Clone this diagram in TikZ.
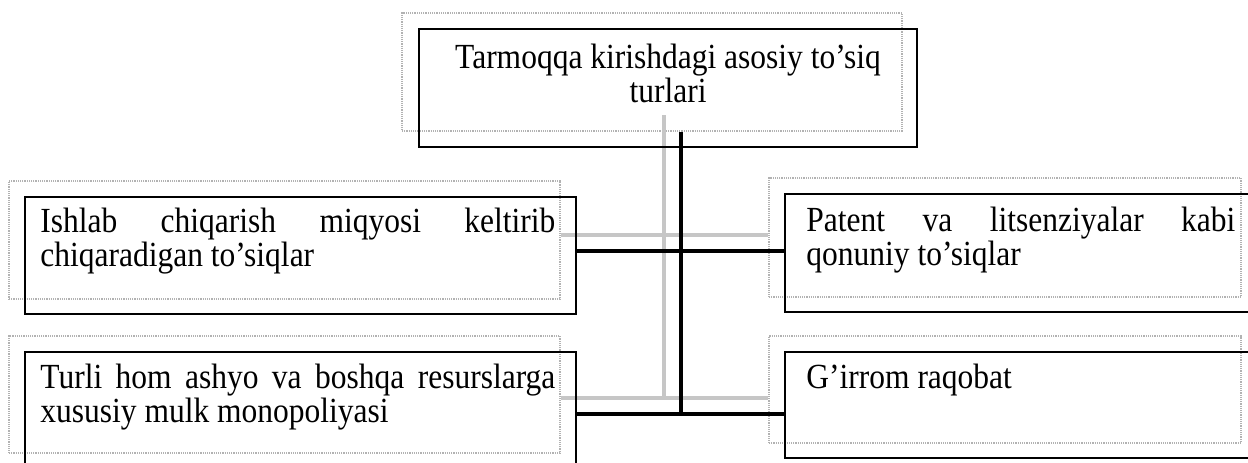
\documentclass[tikz,border=0pt]{standalone}
\usepackage{graphicx}
\usepackage{fontspec}
\setmainfont{Liberation Serif}
\usetikzlibrary{fit}
\newcommand{\tallbox}[1]{\scalebox{1}[1.12]{#1}}
\tikzset{
  ghost/.style={draw=gray!60, line width=0.55pt, dash pattern=on 0.6pt off 0.5pt, inner sep=0pt, rectangle},
  blackbox/.style={draw=black, line width=1pt, inner sep=0pt, rectangle},
  ghostlink/.style={draw=gray!45, line width=1.6pt},
  link/.style={draw=black, line width=1.8pt},
  txt/.style={inner sep=0pt, font=\fontsize{15.75pt}{14.3pt}\selectfont}
}
\begin{document}
\begin{tikzpicture}[x=0.5pt,y=-0.5pt]
\useasboundingbox (0,0) rectangle (1248,462);
\clip (0,0) rectangle (1248,462);
% ghost boxes
\node[ghost, fit={(402,13) (902,131)}] (gtop) {};
\node[ghost, fit={(9,181) (560,299)}] (glm) {};
\node[ghost, fit={(9,336) (560,453)}] (glb) {};
\node[ghost, fit={(769,178) (1241,297)}] (grm) {};
\node[ghost, fit={(769,336) (1241,443)}] (grb) {};
% ghost connectors
\coordinate (gt) at (664,115);
\coordinate (g1) at (664,235);
\coordinate (g2) at (664,398);
\draw[ghostlink] (gt) -- (g2);
\draw[ghostlink] (glm.east |- g1) -- (grm.west |- g1);
\draw[ghostlink] (glb.east |- g2) -- (grb.west |- g2);
% black boxes
\node[blackbox, fit={(419,29) (917,147)}] (top) {};
\node[blackbox, fit={(25,197) (576,314)}] (lm) {};
\node[blackbox, fit={(25,352) (576,475)}] (lb) {};
\node[blackbox, fit={(785,194) (1257,312)}] (rm) {};
\node[blackbox, fit={(785,352) (1257,458)}] (rb) {};
% black connectors
\coordinate (jt) at (681,132);
\coordinate (j1) at (681,251);
\coordinate (j2) at (681,414);
\draw[link] (jt) -- (j2);
\draw[link] (lm.east |- j1) -- (rm.west |- j1);
\draw[link] (lb.east |- j2) -- (rb.west |- j2);
% texts
\node[txt, anchor=base] (ttop) at (668,68) {\tallbox{\parbox[t]{245pt}{\centering Tarmoqqa kirishdagi asosiy to’siq\\turlari}}};
\node[txt, anchor=base west] (tlm) at (40,232) {\tallbox{\parbox[t]{257.5pt}{\makebox[\linewidth][s]{Ishlab chiqarish miqyosi keltirib}\\chiqaradigan to’siqlar}}};
\node[txt, anchor=base west] (tlb) at (40,388) {\tallbox{\parbox[t]{257.5pt}{\makebox[\linewidth][s]{Turli hom ashyo va boshqa resurslarga}\\xususiy mulk monopoliyasi}}};
\node[txt, anchor=base west] (trm) at (806,231) {\tallbox{\parbox[t]{214.5pt}{\makebox[\linewidth][s]{Patent va litsenziyalar kabi}\\qonuniy to’siqlar}}};
\node[txt, anchor=base west] (trb) at (806,388) {\tallbox{G’irrom raqobat}};
\end{tikzpicture}
\end{document}
